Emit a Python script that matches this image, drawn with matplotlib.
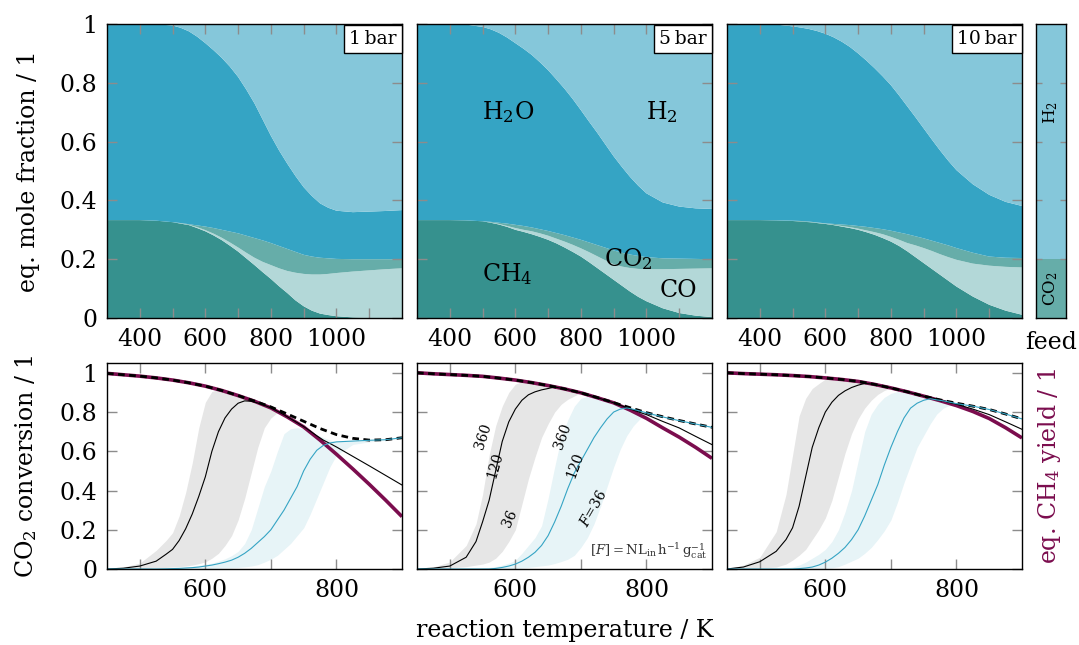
import numpy as np
import matplotlib
matplotlib.use('Agg')
import matplotlib.pyplot as plt

plt.rcParams['font.family'] = 'DejaVu Serif'
plt.rcParams['mathtext.fontset'] = 'dejavuserif'
plt.rcParams['axes.unicode_minus'] = False

# ---- equilibrium composition (top row) ----
T_top = [300, 400, 450, 500, 525, 550, 575, 600, 625, 650, 675, 700, 725, 750, 775, 800,
         825, 850, 875, 900, 925, 950, 975, 1000, 1050, 1100, 1150, 1200]

ch4_1 = [.333, .333, .331, .326, .321, .316, .306, .295, .281, .265, .246, .226, .203, .18, .156, .133,
         .108, .085, .06, .04, .025, .015, .01, .006, .002, 0, 0, 0]
co_1 = [0, 0, 0, 0, .001, .001, .003, .004, .006, .008, .011, .014, .019, .025, .035, .047,
        .061, .075, .094, .11, .123, .133, .14, .147, .156, .162, .166, .169]
co2_1 = [0, 0, 0, 0, .001, .002, .006, .012, .019, .027, .037, .048, .058, .067, .073, .075,
         .076, .075, .071, .065, .061, .057, .053, .048, .042, .038, .034, .031]
h2o_1 = [.667, .667, .668, .669, .664, .656, .642, .624, .605, .585, .561, .532, .497, .458, .411, .365,
         .325, .29, .258, .23, .206, .185, .172, .164, .16, .162, .164, .167]
h2_1 = [0, 0, .001, .005, .013, .025, .043, .065, .089, .115, .145, .18, .223, .27, .325, .38,
        .43, .475, .517, .555, .585, .61, .625, .635, .64, .638, .636, .633]

ch4_5 = [.333, .333, .332, .329, .324, .318, .31, .300, .293, .285, .276, .266, .254, .240, .225, .209,
         .19, .170, .15, .130, .11, .090, .072, .057, .033, .017, .008, .003]
co_5 = [0, 0, 0, 0, .001, .002, .003, .006, .007, .010, .012, .014, .016, .020, .024, .028,
        .034, .040, .046, .053, .065, .080, .095, .109, .133, .150, .160, .166]
co2_5 = [0, 0, 0, 0, .002, .004, .008, .011, .013, .013, .014, .016, .019, .022, .025, .029,
         .033, .038, .043, .047, .047, .046, .044, .041, .037, .035, .033, .031]
h2o_5 = [.667, .667, .666, .661, .655, .646, .633, .618, .603, .587, .568, .547, .523, .498, .471, .441,
         .411, .382, .351, .320, .292, .264, .239, .217, .190, .177, .172, .171]
h2_5 = [0, 0, .002, .010, .018, .030, .046, .065, .084, .105, .13, .157, .188, .220, .255, .293,
        .332, .370, .41, .450, .486, .520, .55, .576, .607, .621, .627, .629]

ch4_10 = [.333, .333, .332, .330, .328, .326, .323, .320, .316, .311, .306, .300, .292, .283, .272, .260,
          .245, .227, .207, .187, .167, .147, .127, .107, .073, .045, .025, .011]
co_10 = [0, 0, 0, 0, 0, 0, .001, .001, .001, .002, .003, .004, .006, .009, .013, .016,
         .021, .028, .04, .051, .061, .070, .08, .091, .112, .133, .149, .161]
co2_10 = [0, 0, 0, .001, .002, .002, .001, .001, .003, .005, .007, .009, .012, .014, .017, .021,
          .025, .030, .031, .033, .035, .038, .04, .040, .037, .031, .031, .032]
h2o_10 = [.667, .667, .666, .661, .658, .655, .651, .645, .635, .622, .606, .587, .566, .544, .52, .495,
          .466, .435, .405, .374, .344, .315, .288, .265, .233, .210, .190, .177]
h2_10 = [0, 0, .002, .008, .012, .017, .024, .033, .045, .060, .078, .100, .124, .150, .178, .208,
         .243, .280, .317, .355, .393, .430, .465, .497, .545, .581, .605, .619]

feed_co2 = 0.2
feed_h2 = 0.8

# ---- conversion / yield (bottom row) ----
T_eq = [450, 475, 500, 525, 550, 575, 600, 625, 650, 675, 700, 725, 750, 775, 800, 825, 850, 875, 900]
eq_yield_1 = [.997, .99, .983, .974, .963, .949, .932, .91, .884, .855, .821, .775, .724, .657, .585,
              .51, .432, .351, .267]
eq_conv_1 = [.997, .99, .983, .974, .963, .949, .932, .91, .884, .856, .826, .79, .753, .716, .685,
             .666, .657, .659, .669]
eq_yield_5 = [1.0, .995, .991, .987, .982, .973, .963, .95, .935, .918, .898, .873, .847, .81, .768,
              .719, .672, .62, .564]
eq_conv_5 = [1.0, .995, .991, .987, .982, .973, .963, .95, .935, .918, .898, .874, .848, .822, .797,
             .776, .757, .739, .722]
eq_yield_10 = [1.0, .996, .993, .99, .986, .981, .974, .966, .956, .941, .923, .903, .881, .858, .833,
               .803, .767, .72, .668]
eq_conv_10 = [1.0, .996, .993, .99, .986, .981, .974, .966, .956, .941, .923, .903, .881, .862, .845,
              .83, .813, .79, .765]

T_kin = [450, 475, 500, 525, 540, 550, 560, 570, 580, 590, 600, 610, 620, 630, 640, 650, 660, 670,
         680, 690, 700, 710, 720, 730, 740, 750, 760, 770, 780, 790, 800, 825, 850, 875, 900]

black_1 = [0, .004, .015, .04, .075, .1, .145, .205, .28, .37, .47, .6, .7, .77, .815, .845, .857, .855,
           .846, .835, .821, .804, .786, .766, .746, .726, .703, .679, .657, .64, .622, .574, .526, .477, .428]
gray_hi_1 = [0, .01, .03, .095, .145, .185, .27, .39, .54, .72, .85, .905, .914, .905, .895, .884, .872,
             .86, .849, .837, .823, .805, .786]
gray_lo_1 = [0, .001, .003, .006, .008, .01, .012, .015, .02, .027, .036, .055, .08, .12, .17, .25, .36,
             .49, .62, .72, .77, .798, .786]
blue_1 = [0, 0, 0, 0, .001, .002, .003, .005, .007, .01, .015, .02, .027, .035, .045, .06, .08, .105,
          .135, .165, .2, .25, .3, .36, .42, .5, .56, .605, .63, .642, .648, .652, .656, .659, .669]
blue_hi_1 = [0, 0, .001, .002, .003, .004, .006, .009, .013, .018, .024, .03, .04, .052, .068, .09, .13, .2,
             .31, .42, .5, .6, .69, .715, .72, .715, .7, .685, .67, .658, .65, .652, .656, .659, .669]
blue_lo_1 = [0, 0, 0, 0, 0, 0, 0, .001, .001, .002, .002, .003, .004, .005, .006, .008, .011, .015,
             .022, .035, .05, .07, .1, .13, .17, .21, .28, .36, .44, .52, .58, .635, .648, .656, .669]

black_5 = [0, .004, .015, .06, .14, .24, .35, .5, .65, .75, .815, .86, .888, .903, .913, .92, .928, .921,
           .914, .906, .898, .888, .878, .868, .858, .847, .835, .822, .81, .798, .787, .752, .719, .676, .634]
gray_hi_5 = [0, .01, .036, .12, .23, .38, .58, .73, .83, .9, .942, .955, .953, .947, .941, .935, .928, .921,
             .914, .906, .898]
gray_lo_5 = [0, .002, .005, .012, .02, .025, .035, .055, .09, .14, .2, .33, .46, .57, .67, .74, .8, .84,
             .865, .882, .898]
blue_5 = [0, 0, 0, 0, 0, 0, 0, .003, .008, .015, .025, .04, .06, .085, .12, .17, .24, .32,
          .41, .49, .55, .61, .67, .72, .765, .8, .815, .821, .814, .805, .796, .775, .756, .739, .722]
blue_hi_5 = [0, 0, 0, 0, 0, .005, .008, .012, .02, .03, .045, .08, .12, .16, .22, .36, .52, .67,
             .76, .83, .87, .88, .878, .868, .858, .848, .835, .822, .814, .805, .796, .775]
blue_lo_5 = [0, 0, 0, 0, 0, 0, 0, 0, 0, 0, .003, .005, .008, .012, .016, .02, .028, .038,
             .05, .07, .11, .16, .23, .32, .42, .52, .61, .68, .73, .765, .785, .775]

black_10 = [0, .01, .037, .09, .15, .21, .32, .47, .62, .72, .8, .85, .885, .908, .925, .937, .946, .943,
            .937, .93, .923, .915, .906, .898, .89, .881, .874, .866, .857, .85, .84, .815, .787, .75, .712]
gray_hi_10 = [0, .02, .06, .19, .38, .58, .78, .87, .92, .945, .968, .971, .967, .964, .96, .956, .95, .943,
              .937, .93, .923]
gray_lo_10 = [0, .002, .005, .01, .025, .045, .07, .1, .15, .2, .26, .35, .47, .59, .69, .765, .82, .86,
              .89, .91, .923]
blue_10 = [0, 0, 0, 0, 0, 0, .002, .005, .01, .02, .035, .055, .08, .11, .15, .2, .27, .35,
           .43, .53, .62, .7, .77, .82, .845, .86, .868, .862, .857, .85, .843, .83, .813, .79, .765]
blue_hi_10 = [0, 0, 0, 0, .005, .01, .02, .035, .055, .075, .1, .14, .2, .29, .4, .55, .7, .79,
              .84, .875, .895, .905, .905, .898, .89, .881, .874, .866, .858, .85, .843]
blue_lo_10 = [0, 0, 0, 0, 0, 0, 0, 0, 0, 0, .003, .006, .012, .025, .04, .055, .08, .11,
              .15, .195, .25, .34, .44, .53, .62, .68, .74, .79, .82, .835, .843]

pressures = ['1\u2009bar', '5\u2009bar', '10\u2009bar']
species_colors = ['#36918e', '#b3d8d8', '#66ada9', '#35a4c4', '#85c7da']
purple = '#7b0d4e'
tick_gray = '#8c8c8c'

W, H = 1079, 645
fig = plt.figure(figsize=(W / 100, H / 100), dpi=100)


def px_axes(x0, x1, y0, y1):
    return fig.add_axes([x0 / W, 1 - y1 / H, (x1 - x0) / W, (y1 - y0) / H])


def style(ax):
    ax.tick_params(which='both', direction='in', top=True, right=True, length=7.5,
                   width=1.0, color=tick_gray, labelsize=17, pad=7)
    for s in ax.spines.values():
        s.set_linewidth(1.0)


lefts = [107, 417, 727]
tops = [
    (ch4_1, co_1, co2_1, h2o_1, h2_1),
    (ch4_5, co_5, co2_5, h2o_5, h2_5),
    (ch4_10, co_10, co2_10, h2o_10, h2_10),
]
bottoms = [
    (eq_yield_1, eq_conv_1, black_1, gray_lo_1, gray_hi_1, blue_1, blue_lo_1, blue_hi_1),
    (eq_yield_5, eq_conv_5, black_5, gray_lo_5, gray_hi_5, blue_5, blue_lo_5, blue_hi_5),
    (eq_yield_10, eq_conv_10, black_10, gray_lo_10, gray_hi_10, blue_10, blue_lo_10, blue_hi_10),
]

for i, x0 in enumerate(lefts):
    # top: stacked equilibrium mole fractions
    ax = px_axes(x0, x0 + 295, 24, 318)
    ax.stackplot(T_top, *tops[i], colors=species_colors, lw=0)
    ax.set_xlim(300, 1200)
    ax.set_ylim(0, 1)
    ax.set_xticks([400, 600, 800, 1000])
    ax.set_xticks([500, 700, 900, 1100], minor=True)
    ax.set_yticks([0, 0.2, 0.4, 0.6, 0.8, 1])
    ax.set_yticklabels(['0', '0.2', '0.4', '0.6', '0.8', '1'])
    style(ax)
    if i > 0:
        ax.tick_params(labelleft=False)
    else:
        ax.set_ylabel('eq. mole fraction / 1', fontsize=17, labelpad=14)
    ax.text(0.981, 0.979, pressures[i], transform=ax.transAxes, fontsize=13.5,
            ha='right', va='top', zorder=5,
            bbox=dict(boxstyle='square,pad=0.28', fc='white', ec='black', lw=1.0))
    if i == 1:
        ax.text(579, 0.70, r'H$_2$O', fontsize=17, ha='center', va='center')
        ax.text(1046, 0.70, r'H$_2$', fontsize=17, ha='center', va='center')
        ax.text(945, 0.20, r'CO$_2$', fontsize=17, ha='center', va='center')
        ax.text(575, 0.15, r'CH$_4$', fontsize=17, ha='center', va='center')
        ax.text(1097, 0.095, 'CO', fontsize=17, ha='center', va='center')

    # bottom: CO2 conversion and CH4 yield
    eq_y, eq_c, blk, glo, ghi, blu, blo, bhi = bottoms[i]
    bx = px_axes(x0, x0 + 295, 363, 569)
    bx.fill_between(T_kin[:len(glo)], glo, ghi, color='#e6e6e6', lw=0)
    bx.fill_between(T_kin[:len(blo)], blo, bhi, color='#e7f4f7', lw=0)
    bx.plot(T_eq, eq_y, color=purple, lw=2.6, solid_capstyle='butt')
    bx.plot(T_eq, eq_c, color='black', lw=2.0, dashes=(2.4, 1.6))
    bx.plot(T_kin, blk, color='black', lw=0.8)
    bx.plot(T_kin, blu, color='#35a4c4', lw=0.8)
    bx.set_xlim(450, 900)
    bx.set_ylim(0, 1.05)
    bx.set_xticks([600, 800])
    bx.set_xticks([500, 700], minor=True)
    bx.set_yticks([0, 0.2, 0.4, 0.6, 0.8, 1])
    bx.set_yticklabels(['0', '0.2', '0.4', '0.6', '0.8', '1'])
    style(bx)
    if i > 0:
        bx.tick_params(labelleft=False)
    else:
        bx.set_ylabel(r'CO$_2$ conversion / 1', fontsize=17, labelpad=15)
    if i == 2:
        bx.yaxis.set_label_position('right')
        bx.set_ylabel(r'eq. CH$_4$ yield / 1', fontsize=17, color=purple, labelpad=10)
    if i == 1:
        kw = dict(fontsize=10, ha='center', va='center')
        bx.text(551, 0.675, '360', rotation=72, **kw)
        bx.text(569, 0.53, '120', rotation=74, **kw)
        bx.text(592, 0.257, '36', rotation=66, **kw)
        bx.text(673, 0.675, '360', rotation=70, **kw)
        bx.text(691, 0.53, '120', rotation=70, **kw)
        bx.text(719, 0.308, r'$F$=36', rotation=60, **kw)
        bx.text(893, 0.09, r'$[F] = \mathrm{NL_{in}\,h^{-1}\,g_{cat}^{-1}}$', fontsize=9.5,
                color='#333333', ha='right', va='center')

# feed bar
fx = px_axes(1036, 1066, 24, 318)
fx.bar([0], [feed_co2], width=1, color=species_colors[2], lw=0)
fx.bar([0], [feed_h2], bottom=[feed_co2], width=1, color=species_colors[4], lw=0)
fx.set_xlim(-0.5, 0.5)
fx.set_ylim(0, 1)
fx.set_xticks([])
fx.set_yticks([0.2, 0.4, 0.6, 0.8])
style(fx)
fx.tick_params(labelleft=False, length=4)
fx.set_xlabel('feed', fontsize=17, labelpad=9)
fx.text(0, 0.7, r'H$_2$', rotation=90, fontsize=12, ha='center', va='center')
fx.text(0, 0.1, r'CO$_2$', rotation=90, fontsize=12, ha='center', va='center')

fig.text(565 / W, 1 - 630 / H, 'reaction temperature / K', fontsize=17, ha='center', va='center')

fig.savefig('out.png', dpi=100, facecolor='white')
